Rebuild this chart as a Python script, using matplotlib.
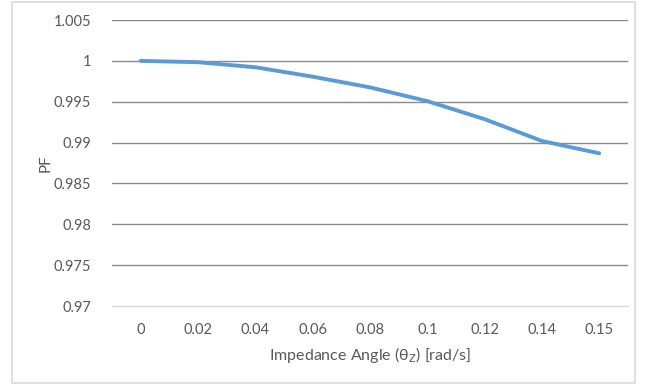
import numpy as np
import matplotlib.pyplot as plt
from matplotlib.patches import Rectangle

# ------------------------------------------------------------------
# Data: power factor vs impedance angle (category axis)
# ------------------------------------------------------------------
angle_labels = ['0', '0.02', '0.04', '0.06', '0.08', '0.1', '0.12', '0.14', '0.15']
pf_values = [1.0, 0.99984, 0.99922, 0.99807, 0.99676, 0.99508, 0.99287, 0.9902, 0.98869]
y_ticks = [0.97, 0.975, 0.98, 0.985, 0.99, 0.995, 1.0, 1.005]
y_tick_labels = ['0.97', '0.975', '0.98', '0.985', '0.99', '0.995', '1', '1.005']

plt.rcParams['font.family'] = ['Lato', 'DejaVu Sans']
plt.rcParams['mathtext.fontset'] = 'custom'
plt.rcParams['mathtext.rm'] = 'Lato'

text_gray = '#595959'
line_blue = '#5B9BD5'

fig = plt.figure(figsize=(6.48, 3.85), dpi=100)
ax = fig.add_axes([0.1728, 0.205, 0.7962, 0.743])

x = np.arange(len(angle_labels))
ax.plot(x, pf_values, color=line_blue, linewidth=2.8,
        solid_joinstyle='round', solid_capstyle='round', zorder=3)

# horizontal gridlines
for yv in y_ticks[1:]:
    ax.axhline(yv, color='#8a8a8a', linewidth=1.0, zorder=1)

ax.set_xlim(-0.5, len(angle_labels) - 0.5)
ax.set_ylim(0.97, 1.005)
ax.set_xticks(x)
ax.set_xticklabels(angle_labels)
ax.set_yticks(y_ticks)
ax.set_yticklabels(y_tick_labels)
ax.tick_params(axis='both', length=0, labelsize=10.5, colors=text_gray)
ax.tick_params(axis='y', pad=15)
ax.tick_params(axis='x', pad=12)

for side in ['top', 'right', 'left']:
    ax.spines[side].set_visible(False)
ax.spines['bottom'].set_color('#d9d9d9')
ax.spines['bottom'].set_linewidth(1.0)

ax.set_xlabel('Impedance Angle (θ$_{\\mathrm{Z}}$) [rad/s]',
              fontsize=11.5, color=text_gray, labelpad=6)
ax.set_ylabel('PF', fontsize=11, color=text_gray, labelpad=1)

# chart area border
fig.patches.append(Rectangle((12 / 648, 2 / 385), 623 / 648, 381 / 385,
                             transform=fig.transFigure, fill=False,
                             edgecolor='#d9d9d9', linewidth=1.2))

fig.savefig('out.png', dpi=100)
